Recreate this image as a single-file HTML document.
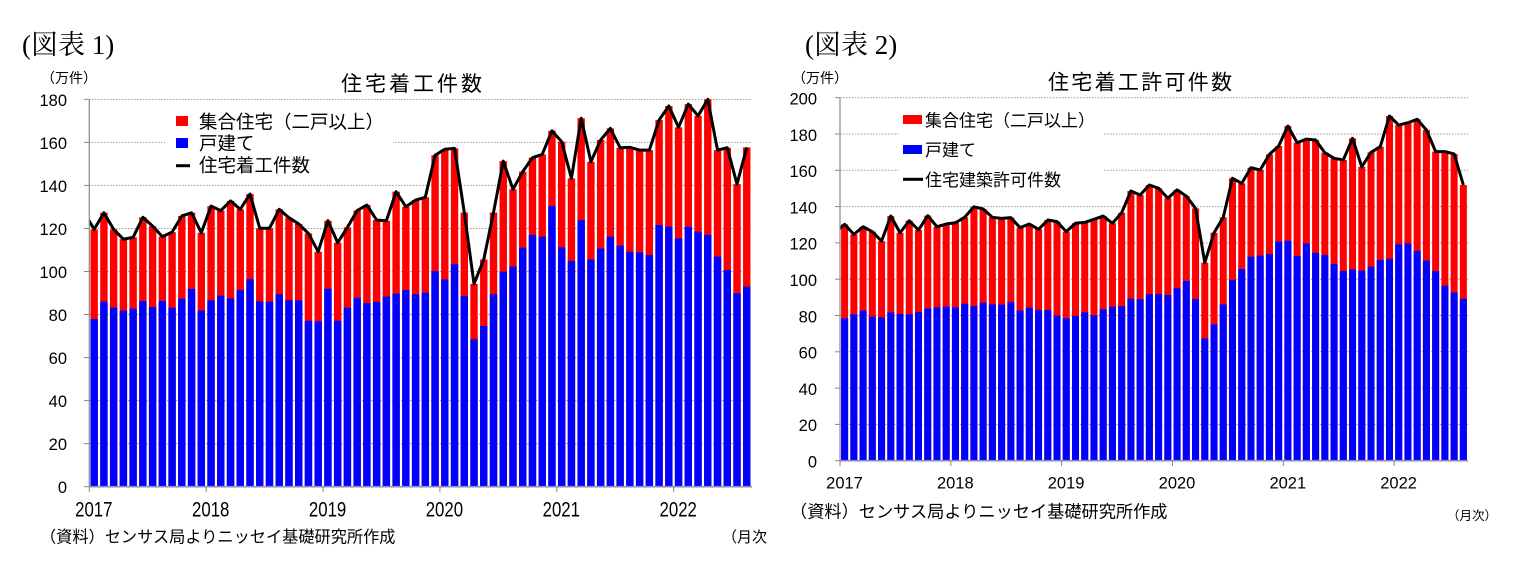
<!DOCTYPE html>
<html><head><meta charset="utf-8"><style>
html,body{margin:0;padding:0;background:#fff;}
svg{display:block;}
.t{font-family:"Liberation Sans","Noto Sans CJK JP",sans-serif;fill:#000;}
.s{font-family:"Liberation Serif","Noto Serif CJK SC",serif;fill:#000;}
</style></head><body>
<svg width="1518" height="578" viewBox="0 0 1518 578" xmlns="http://www.w3.org/2000/svg">
<defs>
<clipPath id="cl"><rect x="0" y="0" width="68" height="200"/></clipPath>
</defs>
<rect width="1518" height="578" fill="#fff"/>

<!-- ===== LEFT CHART ===== -->
<text class="s" x="22" y="54" font-size="27">(図表 1)</text>
<text class="t" x="41" y="83" font-size="14">（万件）</text>
<text class="t" x="341" y="91" font-size="21" letter-spacing="3">住宅着工件数</text>

<g stroke="#999" stroke-width="1" stroke-dasharray="1.5,1.5">
<line x1="89" y1="443.66" x2="752" y2="443.66"/>
<line x1="89" y1="400.62" x2="752" y2="400.62"/>
<line x1="89" y1="357.58" x2="752" y2="357.58"/>
<line x1="89" y1="314.54" x2="752" y2="314.54"/>
<line x1="89" y1="271.5" x2="752" y2="271.5"/>
<line x1="89" y1="228.46" x2="752" y2="228.46"/>
<line x1="89" y1="185.42" x2="752" y2="185.42"/>
<line x1="89" y1="142.38" x2="752" y2="142.38"/>
<line x1="89" y1="99.34" x2="752" y2="99.34"/>
</g>

<g class="t" font-size="16.5" text-anchor="end">
<text x="67" y="493">0</text>
<text x="67" y="450">20</text>
<text x="67" y="407">40</text>
<text x="67" y="364">60</text>
<text x="67" y="321">80</text>
<text x="67" y="278">100</text>
<text x="67" y="235">120</text>
<text x="67" y="192">140</text>
<text x="67" y="149">160</text>
<text x="67" y="106">180</text>
</g>

<g transform="translate(89.3,486.7) scale(9.74,-2.152)">
<path fill="#ff0000" d="M0.12 0V119.6h.76V0zM1.12 0V127.3h.76V0zM2.12 0V119.6h.76V0zM3.12 0V115h.76V0zM4.12 0V115.9h.76V0zM5.12 0V125.2h.76V0zM6.12 0V121.1h.76V0zM7.12 0V116.2h.76V0zM8.12 0V118.3h.76V0zM9.12 0V125.8h.76V0zM10.12 0V127.3h.76V0zM11.12 0V118h.76V0zM12.12 0V130.4h.76V0zM13.12 0V128.3h.76V0zM14.12 0V132.8h.76V0zM15.12 0V128.9h.76V0zM16.12 0V136h.76V0zM17.12 0V120.1h.76V0zM18.12 0V120.1h.76V0zM19.12 0V128.9h.76V0zM20.12 0V125h.76V0zM21.12 0V122.1h.76V0zM22.12 0V117.7h.76V0zM23.12 0V109.2h.76V0zM24.12 0V123.6h.76V0zM25.12 0V113.4h.76V0zM26.12 0V120.5h.76V0zM27.12 0V128.3h.76V0zM28.12 0V130.9h.76V0zM29.12 0V123.9h.76V0zM30.12 0V123.6h.76V0zM31.12 0V137.1h.76V0zM32.12 0V130.1h.76V0zM33.12 0V133.2h.76V0zM34.12 0V134.5h.76V0zM35.12 0V154h.76V0zM36.12 0V156.8h.76V0zM37.12 0V157.2h.76V0zM38.12 0V127.4h.76V0zM39.12 0V94.2h.76V0zM40.12 0V105.6h.76V0zM41.12 0V127.4h.76V0zM42.12 0V151.3h.76V0zM43.12 0V138.2h.76V0zM44.12 0V146.4h.76V0zM45.12 0V152.9h.76V0zM46.12 0V154.4h.76V0zM47.12 0V165.4h.76V0zM48.12 0V160.3h.76V0zM49.12 0V143.3h.76V0zM50.12 0V171.2h.76V0zM51.12 0V151h.76V0zM52.12 0V161.1h.76V0zM53.12 0V166.5h.76V0zM54.12 0V157.5h.76V0zM55.12 0V157.7h.76V0zM56.12 0V156.4h.76V0zM57.12 0V156.4h.76V0zM58.12 0V170.4h.76V0zM59.12 0V176.9h.76V0zM60.12 0V167h.76V0zM61.12 0V177.8h.76V0zM62.12 0V172.3h.76V0zM63.12 0V180h.76V0zM64.12 0V156.4h.76V0zM65.12 0V157.5h.76V0zM66.12 0V140.6h.76V0zM67.12 0V157.7h.76V0z"/>
<path fill="#0000ff" d="M0.12 0V77.9h.76V0zM1.12 0V86h.76V0zM2.12 0V83.2h.76V0zM3.12 0V81.8h.76V0zM4.12 0V82.7h.76V0zM5.12 0V86.3h.76V0zM6.12 0V83.5h.76V0zM7.12 0V86.3h.76V0zM8.12 0V83.2h.76V0zM9.12 0V87.4h.76V0zM10.12 0V91.9h.76V0zM11.12 0V81.8h.76V0zM12.12 0V86.6h.76V0zM13.12 0V88.8h.76V0zM14.12 0V87.5h.76V0zM15.12 0V91.4h.76V0zM16.12 0V96.4h.76V0zM17.12 0V86.1h.76V0zM18.12 0V86h.76V0zM19.12 0V89.4h.76V0zM20.12 0V86.7h.76V0zM21.12 0V86.6h.76V0zM22.12 0V77.1h.76V0zM23.12 0V76.8h.76V0zM24.12 0V92h.76V0zM25.12 0V77.1h.76V0zM26.12 0V83.2h.76V0zM27.12 0V87.8h.76V0zM28.12 0V85.3h.76V0zM29.12 0V85.8h.76V0zM30.12 0V88.4h.76V0zM31.12 0V89.7h.76V0zM32.12 0V91.4h.76V0zM33.12 0V89.4h.76V0zM34.12 0V90.1h.76V0zM35.12 0V100.2h.76V0zM36.12 0V96.3h.76V0zM37.12 0V103.5h.76V0zM38.12 0V88.6h.76V0zM39.12 0V68.5h.76V0zM40.12 0V74.7h.76V0zM41.12 0V89.5h.76V0zM42.12 0V99.9h.76V0zM43.12 0V102.3h.76V0zM44.12 0V111.1h.76V0zM45.12 0V117h.76V0zM46.12 0V116.2h.76V0zM47.12 0V130.4h.76V0zM48.12 0V111.2h.76V0zM49.12 0V104.9h.76V0zM50.12 0V123.9h.76V0zM51.12 0V105.6h.76V0zM52.12 0V110.7h.76V0zM53.12 0V116.2h.76V0zM54.12 0V112h.76V0zM55.12 0V109.2h.76V0zM56.12 0V108.9h.76V0zM57.12 0V107.7h.76V0zM58.12 0V121.6h.76V0zM59.12 0V120.8h.76V0zM60.12 0V115.4h.76V0zM61.12 0V120.8h.76V0zM62.12 0V118.5h.76V0zM63.12 0V117h.76V0zM64.12 0V106.9h.76V0zM65.12 0V100.7h.76V0zM66.12 0V89.9h.76V0zM67.12 0V93h.76V0z"/>
<polyline clip-path="url(#cl)" fill="none" stroke="#000" stroke-width="3" stroke-linejoin="round" vector-effect="non-scaling-stroke" points="-0.5,127.2 0.5,119.6 1.5,127.3 2.5,119.6 3.5,115 4.5,115.9 5.5,125.2 6.5,121.1 7.5,116.2 8.5,118.3 9.5,125.8 10.5,127.3 11.5,118 12.5,130.4 13.5,128.3 14.5,132.8 15.5,128.9 16.5,136 17.5,120.1 18.5,120.1 19.5,128.9 20.5,125 21.5,122.1 22.5,117.7 23.5,109.2 24.5,123.6 25.5,113.4 26.5,120.5 27.5,128.3 28.5,130.9 29.5,123.9 30.5,123.6 31.5,137.1 32.5,130.1 33.5,133.2 34.5,134.5 35.5,154 36.5,156.8 37.5,157.2 38.5,127.4 39.5,94.2 40.5,105.6 41.5,127.4 42.5,151.3 43.5,138.2 44.5,146.4 45.5,152.9 46.5,154.4 47.5,165.4 48.5,160.3 49.5,143.3 50.5,171.2 51.5,151 52.5,161.1 53.5,166.5 54.5,157.5 55.5,157.7 56.5,156.4 57.5,156.4 58.5,170.4 59.5,176.9 60.5,167 61.5,177.8 62.5,172.3 63.5,180 64.5,156.4 65.5,157.5 66.5,140.6 67.5,157.7"/>
</g>

<!-- axes left -->
<line x1="89.3" y1="99.3" x2="89.3" y2="487" stroke="#888" stroke-width="1.2"/>
<line x1="89.3" y1="486.7" x2="752" y2="486.7" stroke="#8c8cb8" stroke-width="1.6"/>
<g stroke="#888" stroke-width="1">
<line x1="84" y1="486.7" x2="89.3" y2="486.7"/><line x1="84" y1="443.66" x2="89.3" y2="443.66"/><line x1="84" y1="400.62" x2="89.3" y2="400.62"/><line x1="84" y1="357.58" x2="89.3" y2="357.58"/><line x1="84" y1="314.54" x2="89.3" y2="314.54"/><line x1="84" y1="271.5" x2="89.3" y2="271.5"/><line x1="84" y1="228.46" x2="89.3" y2="228.46"/><line x1="84" y1="185.42" x2="89.3" y2="185.42"/><line x1="84" y1="142.38" x2="89.3" y2="142.38"/><line x1="84" y1="99.34" x2="89.3" y2="99.34"/>
<line x1="89.3" y1="486.7" x2="89.3" y2="492"/><line x1="206.2" y1="486.7" x2="206.2" y2="492"/><line x1="323.1" y1="486.7" x2="323.1" y2="492"/><line x1="439.9" y1="486.7" x2="439.9" y2="492"/><line x1="556.8" y1="486.7" x2="556.8" y2="492"/><line x1="673.7" y1="486.7" x2="673.7" y2="492"/>
</g>
<g class="t" font-size="21" text-anchor="middle">
<text transform="translate(93.8,516.5) scale(0.8,1)">2017</text>
<text transform="translate(210.7,516.5) scale(0.8,1)">2018</text>
<text transform="translate(327.6,516.5) scale(0.8,1)">2019</text>
<text transform="translate(444.4,516.5) scale(0.8,1)">2020</text>
<text transform="translate(561.3,516.5) scale(0.8,1)">2021</text>
<text transform="translate(678.2,516.5) scale(0.8,1)">2022</text>
</g>

<!-- legend left -->
<rect x="165" y="105" width="228" height="73" fill="#fff"/>
<rect x="176" y="116" width="12" height="10" fill="#ff0000"/>
<rect x="176" y="138" width="12" height="10" fill="#0000ff"/>
<rect x="176" y="164.2" width="14" height="3" fill="#000"/>
<g class="t" font-size="18.5">
<text x="199" y="128.5">集合住宅（二戸以上）</text>
<text x="199" y="150">戸建て</text>
<text x="199" y="172">住宅着工件数</text>
</g>

<text class="t" x="40" y="542.5" font-size="16.2">（資料）センサス局よりニッセイ基礎研究所作成</text>
<text class="t" x="722" y="542" font-size="15">（月次</text>

<!-- ===== RIGHT CHART ===== -->
<text class="s" x="805" y="54" font-size="27">(図表 2)</text>
<text class="t" x="792" y="83" font-size="14">（万件）</text>
<text class="t" x="1048" y="89.5" font-size="21" letter-spacing="2.3">住宅着工許可件数</text>

<g stroke="#999" stroke-width="1" stroke-dasharray="1.5,1.5">
<line x1="840" y1="424.4" x2="1468" y2="424.4"/>
<line x1="840" y1="388.1" x2="1468" y2="388.1"/>
<line x1="840" y1="351.8" x2="1468" y2="351.8"/>
<line x1="840" y1="315.5" x2="1468" y2="315.5"/>
<line x1="840" y1="279.2" x2="1468" y2="279.2"/>
<line x1="840" y1="242.9" x2="1468" y2="242.9"/>
<line x1="840" y1="206.6" x2="1468" y2="206.6"/>
<line x1="840" y1="170.3" x2="1468" y2="170.3"/>
<line x1="840" y1="134" x2="1468" y2="134"/>
<line x1="840" y1="97.7" x2="1468" y2="97.7"/>
</g>

<g class="t" font-size="16.5" text-anchor="end">
<text x="817" y="467.5">0</text>
<text x="817" y="431.2">20</text>
<text x="817" y="394.9">40</text>
<text x="817" y="358.6">60</text>
<text x="817" y="322.3">80</text>
<text x="817" y="286">100</text>
<text x="817" y="249.7">120</text>
<text x="817" y="213.4">140</text>
<text x="817" y="177.1">160</text>
<text x="817" y="140.8">180</text>
<text x="817" y="104.5">200</text>
</g>

<g transform="translate(840,460.7) scale(9.235,-1.815)">
<path fill="#ff0000" d="M0.12 0V130.2h.76V0zM1.12 0V124.7h.76V0zM2.12 0V128.9h.76V0zM3.12 0V126.2h.76V0zM4.12 0V121h.76V0zM5.12 0V134.8h.76V0zM6.12 0V125.6h.76V0zM7.12 0V132.2h.76V0zM8.12 0V127.1h.76V0zM9.12 0V135h.76V0zM10.12 0V128.9h.76V0zM11.12 0V130.4h.76V0zM12.12 0V131.1h.76V0zM13.12 0V134.1h.76V0zM14.12 0V139.9h.76V0zM15.12 0V138.7h.76V0zM16.12 0V134.1h.76V0zM17.12 0V133.5h.76V0zM18.12 0V133.9h.76V0zM19.12 0V128.4h.76V0zM20.12 0V130.4h.76V0zM21.12 0V127.5h.76V0zM22.12 0V132.6h.76V0zM23.12 0V131.7h.76V0zM24.12 0V126.2h.76V0zM25.12 0V130.8h.76V0zM26.12 0V131.3h.76V0zM27.12 0V133h.76V0zM28.12 0V134.8h.76V0zM29.12 0V130.8h.76V0zM30.12 0V136.6h.76V0zM31.12 0V148.6h.76V0zM32.12 0V146.4h.76V0zM33.12 0V151.9h.76V0zM34.12 0V150.1h.76V0zM35.12 0V144.6h.76V0zM36.12 0V149.2h.76V0zM37.12 0V145.8h.76V0zM38.12 0V139h.76V0zM39.12 0V109.1h.76V0zM40.12 0V125.6h.76V0zM41.12 0V134.1h.76V0zM42.12 0V155.6h.76V0zM43.12 0V152.8h.76V0zM44.12 0V161.4h.76V0zM45.12 0V160.2h.76V0zM46.12 0V168.8h.76V0zM47.12 0V173.4h.76V0zM48.12 0V184.4h.76V0zM49.12 0V175.2h.76V0zM50.12 0V177.2h.76V0zM51.12 0V176.7h.76V0zM52.12 0V169.7h.76V0zM53.12 0V166.6h.76V0zM54.12 0V165.7h.76V0zM55.12 0V177.6h.76V0zM56.12 0V161.9h.76V0zM57.12 0V169.9h.76V0zM58.12 0V173h.76V0zM59.12 0V189.9h.76V0zM60.12 0V184.9h.76V0zM61.12 0V186.2h.76V0zM62.12 0V188.1h.76V0zM63.12 0V182.2h.76V0zM64.12 0V170.3h.76V0zM65.12 0V170.3h.76V0zM66.12 0V169h.76V0zM67.12 0V151.9h.76V0z"/>
<path fill="#0000ff" d="M0.12 0V78.5h.76V0zM1.12 0V80.6h.76V0zM2.12 0V82.7h.76V0zM3.12 0V79.4h.76V0zM4.12 0V79h.76V0zM5.12 0V81.7h.76V0zM6.12 0V80.8h.76V0zM7.12 0V80.6h.76V0zM8.12 0V81.9h.76V0zM9.12 0V83.8h.76V0zM10.12 0V84.5h.76V0zM11.12 0V84.9h.76V0zM12.12 0V84.5h.76V0zM13.12 0V86.5h.76V0zM14.12 0V85.2h.76V0zM15.12 0V87.1h.76V0zM16.12 0V86.1h.76V0zM17.12 0V86h.76V0zM18.12 0V87.4h.76V0zM19.12 0V82.8h.76V0zM20.12 0V84.3h.76V0zM21.12 0V83h.76V0zM22.12 0V83h.76V0zM23.12 0V79.9h.76V0zM24.12 0V78.5h.76V0zM25.12 0V79.7h.76V0zM26.12 0V81.7h.76V0zM27.12 0V80.1h.76V0zM28.12 0V83.4h.76V0zM29.12 0V84.9h.76V0zM30.12 0V85.2h.76V0zM31.12 0V89.2h.76V0zM32.12 0V89h.76V0zM33.12 0V91.8h.76V0zM34.12 0V91.8h.76V0zM35.12 0V91.3h.76V0zM36.12 0V95h.76V0zM37.12 0V99h.76V0zM38.12 0V89.1h.76V0zM39.12 0V67.4h.76V0zM40.12 0V75.1h.76V0zM41.12 0V86.1h.76V0zM42.12 0V99.6h.76V0zM43.12 0V105.6h.76V0zM44.12 0V112.4h.76V0zM45.12 0V113h.76V0zM46.12 0V113.9h.76V0zM47.12 0V120.7h.76V0zM48.12 0V121.2h.76V0zM49.12 0V112.8h.76V0zM50.12 0V119.7h.76V0zM51.12 0V114.6h.76V0zM52.12 0V113.3h.76V0zM53.12 0V108.4h.76V0zM54.12 0V104.5h.76V0zM55.12 0V105.4h.76V0zM56.12 0V104.7h.76V0zM57.12 0V106.9h.76V0zM58.12 0V110.6h.76V0zM59.12 0V111.3h.76V0zM60.12 0V119.2h.76V0zM61.12 0V119.7h.76V0zM62.12 0V115.7h.76V0zM63.12 0V110.2h.76V0zM64.12 0V104.5h.76V0zM65.12 0V96.4h.76V0zM66.12 0V92.7h.76V0zM67.12 0V89.2h.76V0z"/>
<polyline clip-path="url(#cl)" fill="none" stroke="#000" stroke-width="3" stroke-linejoin="round" vector-effect="non-scaling-stroke" points="-0.5,126 0.5,130.2 1.5,124.7 2.5,128.9 3.5,126.2 4.5,121 5.5,134.8 6.5,125.6 7.5,132.2 8.5,127.1 9.5,135 10.5,128.9 11.5,130.4 12.5,131.1 13.5,134.1 14.5,139.9 15.5,138.7 16.5,134.1 17.5,133.5 18.5,133.9 19.5,128.4 20.5,130.4 21.5,127.5 22.5,132.6 23.5,131.7 24.5,126.2 25.5,130.8 26.5,131.3 27.5,133 28.5,134.8 29.5,130.8 30.5,136.6 31.5,148.6 32.5,146.4 33.5,151.9 34.5,150.1 35.5,144.6 36.5,149.2 37.5,145.8 38.5,139 39.5,109.1 40.5,125.6 41.5,134.1 42.5,155.6 43.5,152.8 44.5,161.4 45.5,160.2 46.5,168.8 47.5,173.4 48.5,184.4 49.5,175.2 50.5,177.2 51.5,176.7 52.5,169.7 53.5,166.6 54.5,165.7 55.5,177.6 56.5,161.9 57.5,169.9 58.5,173 59.5,189.9 60.5,184.9 61.5,186.2 62.5,188.1 63.5,182.2 64.5,170.3 65.5,170.3 66.5,169 67.5,151.9"/>
</g>

<!-- axes right -->
<line x1="840" y1="97.7" x2="840" y2="461" stroke="#888" stroke-width="1.2"/>
<line x1="840" y1="460.7" x2="1468" y2="460.7" stroke="#8c8cb8" stroke-width="1.6"/>
<g stroke="#888" stroke-width="1">
<line x1="835" y1="460.7" x2="840" y2="460.7"/><line x1="835" y1="424.4" x2="840" y2="424.4"/><line x1="835" y1="388.1" x2="840" y2="388.1"/><line x1="835" y1="351.8" x2="840" y2="351.8"/><line x1="835" y1="315.5" x2="840" y2="315.5"/><line x1="835" y1="279.2" x2="840" y2="279.2"/><line x1="835" y1="242.9" x2="840" y2="242.9"/><line x1="835" y1="206.6" x2="840" y2="206.6"/><line x1="835" y1="170.3" x2="840" y2="170.3"/><line x1="835" y1="134" x2="840" y2="134"/><line x1="835" y1="97.7" x2="840" y2="97.7"/>
<line x1="840" y1="460.7" x2="840" y2="466"/><line x1="950.8" y1="460.7" x2="950.8" y2="466"/><line x1="1061.6" y1="460.7" x2="1061.6" y2="466"/><line x1="1172.5" y1="460.7" x2="1172.5" y2="466"/><line x1="1283.3" y1="460.7" x2="1283.3" y2="466"/><line x1="1394.1" y1="460.7" x2="1394.1" y2="466"/>
</g>
<g class="t" font-size="16.5" text-anchor="middle">
<text x="844.5" y="488.5">2017</text>
<text x="955.3" y="488.5">2018</text>
<text x="1066.1" y="488.5">2019</text>
<text x="1177" y="488.5">2020</text>
<text x="1287.8" y="488.5">2021</text>
<text x="1398.6" y="488.5">2022</text>
</g>

<!-- legend right -->
<rect x="898" y="104" width="205" height="92" fill="#fff"/>
<rect x="903" y="115" width="19" height="9" fill="#ff0000"/>
<rect x="903" y="145" width="19" height="9" fill="#0000ff"/>
<rect x="903" y="177.8" width="20" height="3" fill="#000"/>
<g class="t" font-size="17">
<text x="925" y="126.5">集合住宅（二戸以上）</text>
<text x="925" y="156">戸建て</text>
<text x="925" y="186">住宅建築許可件数</text>
</g>

<text class="t" x="790" y="517.5" font-size="17.2">（資料）センサス局よりニッセイ基礎研究所作成</text>
<text class="t" x="1447" y="520" font-size="12.5">（月次）</text>
</svg>
</body></html>
